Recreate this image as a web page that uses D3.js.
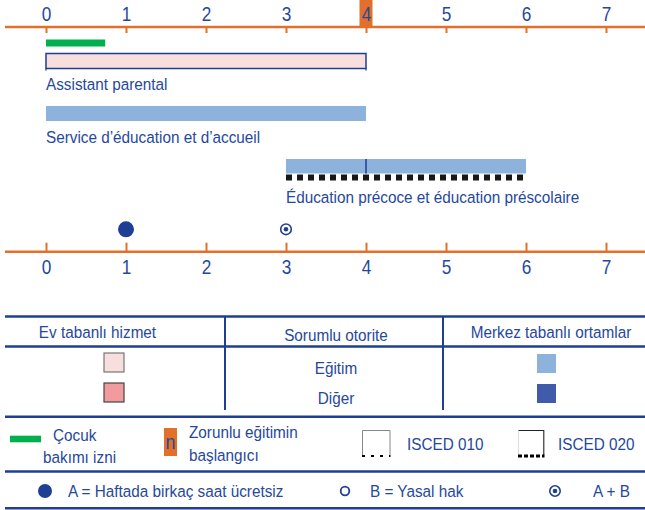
<!DOCTYPE html>
<html>
<head>
<meta charset="utf-8">
<script src="https://cdn.jsdelivr.net/npm/d3@7"></script>
<style>
  html, body { margin: 0; padding: 0; background: #fff; }
  svg { display: block; }
  text { font-family: "Liberation Sans", Arial, sans-serif; fill: #26489c; }
</style>
</head>
<body>
<svg id="chart" width="645" height="510"></svg>
<script>
// ---------- data ----------
const ageTicks = [0, 1, 2, 3, 4, 5, 6, 7];
const leaveRange = [0, 0.74];                 // Çocuk bakımı izni
const compulsoryAge = 4;                      // Zorunlu eğitimin başlangıcı
const serviceNames = ["Assistant parental", "Service d’éducation et d’accueil", "Éducation précoce et éducation préscolaire"];
const serviceStart = [0, 0, 3];
const serviceEnd = [4, 4, 6];
const serviceKind = ["home", "centre", "centre"];
const serviceDivider = [null, null, 4];       // ISCED 010 / 020 split
const serviceIsced = [null, null, "020"];
const entitlementAges = [1, 3];
const entitlementTypes = ["A", "AB"];

const legendHeaders = ["Ev tabanlı hizmet", "Sorumlu otorite", "Merkez tabanlı ortamlar"];
const authorityNames = ["Eğitim", "Diğer"];
const homeColors = ["#f9dede", "#f29b9f"];
const centreColors = ["#8db3dd", "#3f5ba9"];

// ---------- setup ----------
const BLUE = "#1f3f94";
const ORANGE = "#e2702a";
const GREEN = "#00b04f";
const SX = 0.9;      // condensed text
const FS = 17;
const svg = d3.select("#chart");
const x = d3.scaleLinear().domain([0, 7]).range([46, 606]);

function txt(xp, yp, str, opts = {}) {
  return svg.append("text")
    .attr("transform", `translate(${xp},${yp}) scale(${opts.sx || SX},1)`)
    .attr("x", 0).attr("y", 0).attr("dy", "0.35em")
    .attr("text-anchor", opts.anchor || "start")
    .attr("font-size", opts.size || FS)
    .text(str);
}

// compulsory age highlight
svg.append("rect")
  .attr("x", x(compulsoryAge) - 6.5).attr("y", 0)
  .attr("width", 13).attr("height", 27)
  .attr("fill", ORANGE);

// top axis
const topY = 27;
svg.append("line").attr("x1", 5).attr("x2", 645).attr("y1", topY).attr("y2", topY)
  .attr("stroke", ORANGE).attr("stroke-width", 2.5);
const gTop = svg.append("g").attr("transform", `translate(0,${topY})`)
  .call(d3.axisTop(x).tickValues(ageTicks).tickFormat(d3.format("d")).tickSizeInner(-6).tickSizeOuter(0).tickPadding(6));
gTop.select(".domain").remove();
gTop.attr("font-family", null).attr("font-size", null);
gTop.selectAll(".tick line").attr("stroke", ORANGE).attr("stroke-width", 2);
gTop.selectAll(".tick text").attr("font-size", 21).attr("x", 0).attr("y", 0).attr("dy", "0.35em")
  .attr("transform", "translate(0,-13.5) scale(0.82,1)").attr("fill", "#26489c");

// bottom axis
const botY = 251.7;
svg.append("line").attr("x1", 5).attr("x2", 645).attr("y1", botY).attr("y2", botY)
  .attr("stroke", ORANGE).attr("stroke-width", 2.5);
const gBot = svg.append("g").attr("transform", `translate(0,${botY})`)
  .call(d3.axisBottom(x).tickValues(ageTicks).tickFormat(d3.format("d")).tickSizeInner(-9).tickSizeOuter(0).tickPadding(6));
gBot.select(".domain").remove();
gBot.attr("font-family", null).attr("font-size", null);
gBot.selectAll(".tick line").attr("stroke", ORANGE).attr("stroke-width", 2);
gBot.selectAll(".tick text").attr("font-size", 21).attr("x", 0).attr("y", 0).attr("dy", "0.35em")
  .attr("transform", "translate(0,14.5) scale(0.82,1)").attr("fill", "#26489c");

// parental leave bar
svg.append("rect")
  .attr("x", x(leaveRange[0])).attr("y", 39.5)
  .attr("width", x(leaveRange[1]) - x(leaveRange[0])).attr("height", 7)
  .attr("fill", GREEN);

// service bars
const barTop = [53.5, 106, 159];
const barH = [15, 15, 14.5];
const labelY = [84, 137.5, 197];
serviceNames.forEach((name, i) => {
  const x0 = x(serviceStart[i]), x1 = x(serviceEnd[i]);
  const r = svg.append("rect")
    .attr("x", x0).attr("y", barTop[i])
    .attr("width", x1 - x0).attr("height", barH[i]);
  if (serviceKind[i] === "home") {
    r.attr("fill", homeColors[0]).attr("stroke", BLUE).attr("stroke-width", 1.5);
    [x0, x1].forEach(xx => svg.append("line").attr("x1", xx).attr("x2", xx)
      .attr("y1", barTop[i] + barH[i]).attr("y2", barTop[i] + barH[i] + 2)
      .attr("stroke", BLUE).attr("stroke-width", 1.2));
  } else {
    r.attr("fill", centreColors[0]);
  }
  if (serviceDivider[i] !== null) {
    svg.append("line")
      .attr("x1", x(serviceDivider[i])).attr("x2", x(serviceDivider[i]))
      .attr("y1", barTop[i]).attr("y2", barTop[i] + barH[i])
      .attr("stroke", BLUE).attr("stroke-width", 1.5);
  }
  if (serviceIsced[i] === "020") {
    svg.append("line")
      .attr("x1", x0).attr("x2", x1)
      .attr("y1", barTop[i] + barH[i] + 4).attr("y2", barTop[i] + barH[i] + 4)
      .attr("stroke", "#000").attr("stroke-width", 6)
      .attr("stroke-dasharray", "6,5").attr("opacity", 0.9);
  }
  txt(x0, labelY[i], name);
});

// entitlement markers
const markY = 229.3;
entitlementAges.forEach((age, i) => {
  if (entitlementTypes[i] === "A") {
    svg.append("circle").attr("cx", x(age)).attr("cy", markY).attr("r", 8).attr("fill", BLUE);
  } else {
    svg.append("circle").attr("cx", x(age)).attr("cy", markY).attr("r", 5.3)
      .attr("fill", "#fff").attr("stroke", BLUE).attr("stroke-width", 1.6);
    svg.append("circle").attr("cx", x(age)).attr("cy", markY).attr("r", 2.3).attr("fill", BLUE);
  }
});

// ---------- legend ----------
const hl = (y, w) => svg.append("line").attr("x1", 5).attr("x2", 645).attr("y1", y).attr("y2", y)
  .attr("stroke", BLUE).attr("stroke-width", w);
hl(316.5, 2.5); hl(346.5, 2.5); hl(416.8, 2.5); hl(471.5, 2.5); hl(508.3, 2.5);
[225, 443].forEach(xx => svg.append("line").attr("x1", xx).attr("x2", xx)
  .attr("y1", 316.5).attr("y2", 410).attr("stroke", BLUE).attr("stroke-width", 2));

const headerX = [97.5, 336, 551];
const headerY = [332, 335, 332];
legendHeaders.forEach((h, i) => txt(headerX[i], headerY[i], h, { anchor: "middle" }));

const rowY = [368, 398];
authorityNames.forEach((n, i) => {
  txt(336, rowY[i], n, { anchor: "middle" });
  svg.append("rect").attr("x", 104).attr("y", rowY[i] - 15).attr("width", 20).attr("height", 19)
    .attr("fill", homeColors[i]).attr("stroke", i === 0 ? "#777" : "#444").attr("stroke-width", 1.2);
  svg.append("rect").attr("x", 537).attr("y", rowY[i] - 14).attr("width", 19).attr("height", 19)
    .attr("fill", centreColors[i]);
});

// row 2
svg.append("rect").attr("x", 10).attr("y", 435.7).attr("width", 31).attr("height", 6.6).attr("fill", GREEN);
txt(53, 435, "Çocuk");
txt(43, 457.5, "bakımı izni");

svg.append("rect").attr("x", 164).attr("y", 428).attr("width", 13).attr("height", 28).attr("fill", ORANGE);
txt(170.5, 442, "n", { anchor: "middle", size: 21, sx: 0.85 });
txt(189, 432, "Zorunlu eğitimin");
txt(189, 455, "başlangıcı");

// ISCED 010 icon
const i1 = svg.append("g");
i1.append("path").attr("d", "M362.5,455 V430.5 H390 V455").attr("fill", "none").attr("stroke", "#888").attr("stroke-width", 1);
i1.append("line").attr("x1", 362).attr("x2", 390.5).attr("y1", 456).attr("y2", 456)
  .attr("stroke", "#000").attr("stroke-width", 2.2).attr("stroke-dasharray", "3,6");
txt(407, 443.7, "ISCED 010");

// ISCED 020 icon
const i2 = svg.append("g");
i2.append("line").attr("x1", 518.5).attr("x2", 518.5).attr("y1", 430.5).attr("y2", 455).attr("stroke", "#ddd").attr("stroke-width", 1);
i2.append("path").attr("d", "M518.5,430.5 H543.8 V455").attr("fill", "none").attr("stroke", "#222").attr("stroke-width", 1.1);
i2.append("line").attr("x1", 518).attr("x2", 544.5).attr("y1", 456).attr("y2", 456)
  .attr("stroke", "#000").attr("stroke-width", 3).attr("stroke-dasharray", "4,2");
txt(558, 443.7, "ISCED 020");

// row 3
const r3 = 491;
svg.append("circle").attr("cx", 45).attr("cy", r3).attr("r", 7).attr("fill", BLUE);
txt(68, r3, "A = Haftada birkaç saat ücretsiz");
svg.append("circle").attr("cx", 345).attr("cy", r3).attr("r", 4.3).attr("fill", "#fff").attr("stroke", BLUE).attr("stroke-width", 1.8);
txt(370, r3, "B = Yasal hak");
svg.append("circle").attr("cx", 555).attr("cy", r3).attr("r", 5.2).attr("fill", "#fff").attr("stroke", BLUE).attr("stroke-width", 1.6);
svg.append("circle").attr("cx", 555).attr("cy", r3).attr("r", 2.3).attr("fill", BLUE);
txt(593, r3, "A + B");
</script>
</body>
</html>
